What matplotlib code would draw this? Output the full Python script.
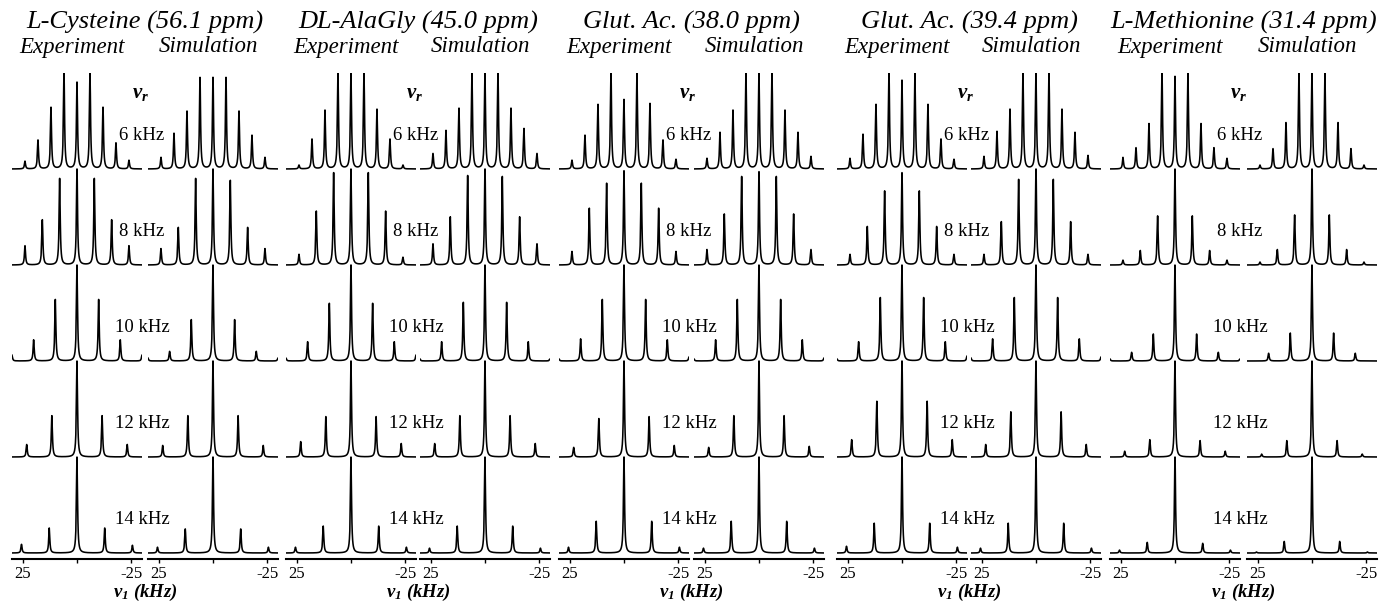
import numpy as np
import matplotlib

matplotlib.use("Agg")
import matplotlib.pyplot as plt
from matplotlib.transforms import blended_transform_factory

plt.rcParams["font.family"] = ["Liberation Serif", "DejaVu Serif"]
plt.rcParams["mathtext.fontset"] = "custom"
plt.rcParams["mathtext.it"] = "Liberation Serif:italic:bold"
plt.rcParams["mathtext.rm"] = "Liberation Serif:italic:bold"

W, H = 1379, 601

compounds = ["L-Cysteine (56.1 ppm)", "DL-AlaGly (45.0 ppm)", "Glut. Ac. (38.0 ppm)",
             "Glut. Ac. (39.4 ppm)", "L-Methionine (31.4 ppm)"]
rate_labels = ["6 kHz", "8 kHz", "10 kHz", "12 kHz", "14 kHz"]
# sideband step along v1 (kHz), top row first
sideband_step = [6.0, 8.0, 10.0, 11.6, 12.8]

# sideband heights, left (+v1) to right (-v1), in units of the row spacing;
# 1.0 means the peak runs into the baseline of the row above
cys_exp = [[0.08, 0.30, 0.64, 1.0, 0.90, 1.0, 0.64, 0.27, 0.09],
           [0.20, 0.47, 0.90, 1.0, 0.90, 0.47, 0.20],
           [0.06, 0.22, 0.64, 1.0, 0.64, 0.22, 0.06],
           [0.13, 0.43, 1.0, 0.43, 0.13],
           [0.09, 0.26, 1.0, 0.26, 0.08]]
cys_sim = [[0.12, 0.37, 0.60, 0.95, 0.95, 0.95, 0.60, 0.35, 0.12],
           [0.17, 0.39, 0.90, 1.0, 0.88, 0.39, 0.17],
           [0.03, 0.10, 0.43, 1.0, 0.43, 0.10, 0.03],
           [0.12, 0.43, 1.0, 0.43, 0.12],
           [0.06, 0.25, 1.0, 0.25, 0.06]]
alagly_exp = [[0.04, 0.31, 0.61, 1.0, 1.0, 1.0, 0.62, 0.31, 0.04],
              [0.11, 0.56, 0.96, 1.0, 0.96, 0.56, 0.08],
              [0.03, 0.20, 0.60, 1.0, 0.60, 0.20, 0.06],
              [0.16, 0.42, 1.0, 0.42, 0.14],
              [0.06, 0.28, 1.0, 0.28, 0.06]]
alagly_sim = [[0.16, 0.40, 0.63, 1.0, 1.0, 1.0, 0.63, 0.42, 0.16],
              [0.22, 0.50, 0.93, 1.0, 0.92, 0.50, 0.22],
              [0.02, 0.20, 0.61, 1.0, 0.61, 0.20, 0.02],
              [0.14, 0.43, 1.0, 0.43, 0.14],
              [0.05, 0.28, 1.0, 0.28, 0.05]]
glu38_exp = [[0.09, 0.35, 0.67, 1.0, 0.72, 1.0, 0.68, 0.30, 0.10],
             [0.14, 0.59, 0.85, 0.98, 0.85, 0.59, 0.14],
             [0.02, 0.23, 0.64, 1.0, 0.64, 0.22, 0.04],
             [0.10, 0.40, 1.0, 0.42, 0.12],
             [0.06, 0.33, 1.0, 0.33, 0.06]]
glu38_sim = [[0.11, 0.38, 0.61, 1.0, 1.0, 1.0, 0.61, 0.38, 0.13],
             [0.16, 0.53, 0.92, 0.97, 0.92, 0.53, 0.16],
             [0.02, 0.22, 0.64, 1.0, 0.64, 0.22, 0.03],
             [0.10, 0.43, 1.0, 0.43, 0.11],
             [0.05, 0.33, 1.0, 0.33, 0.05]]
glu39_exp = [[0.11, 0.36, 0.67, 1.0, 0.92, 1.0, 0.67, 0.31, 0.10],
             [0.11, 0.40, 0.77, 0.96, 0.77, 0.40, 0.11],
             [0.02, 0.20, 0.66, 1.0, 0.66, 0.20, 0.05],
             [0.18, 0.58, 1.0, 0.58, 0.18],
             [0.07, 0.31, 1.0, 0.31, 0.06]]
glu39_sim = [[0.13, 0.39, 0.62, 1.0, 1.0, 1.0, 0.62, 0.38, 0.14],
             [0.11, 0.45, 0.89, 1.0, 0.89, 0.45, 0.11],
             [0.03, 0.23, 0.66, 1.0, 0.66, 0.23, 0.04],
             [0.13, 0.47, 1.0, 0.47, 0.13],
             [0.05, 0.31, 1.0, 0.31, 0.05]]
met_exp = [[0.12, 0.22, 0.47, 1.0, 0.96, 1.0, 0.47, 0.22, 0.11],
           [0.05, 0.15, 0.51, 1.0, 0.51, 0.15, 0.05],
           [0.02, 0.09, 0.28, 1.0, 0.28, 0.09, 0.02],
           [0.06, 0.18, 1.0, 0.17, 0.06],
           [0.03, 0.11, 1.0, 0.10, 0.03]]
met_sim = [[0.04, 0.21, 0.48, 1.0, 1.0, 1.0, 0.48, 0.21, 0.04],
           [0.03, 0.16, 0.52, 1.0, 0.52, 0.16, 0.03],
           [0.00, 0.08, 0.29, 1.0, 0.29, 0.08, 0.00],
           [0.03, 0.17, 1.0, 0.17, 0.03],
           [0.01, 0.12, 1.0, 0.12, 0.01]]

panels = [(cys_exp, cys_sim), (alagly_exp, alagly_sim), (glu38_exp, glu38_sim),
          (glu39_exp, glu39_sim), (met_exp, met_sim)]

# layout in pixels
lefts = [12, 148, 286, 420, 559, 694, 837, 971, 1110, 1247]
panel_w = 130
axis_y, top_y = 559, 73
row_px = 96
hwhm = 0.3
x = np.linspace(-30, 30, 4000)


def spectrum(heights, step):
    k = (len(heights) - 1) // 2
    positions = step * np.arange(k, -k - 1, -1)
    y = np.zeros_like(x)
    for h, p in zip(heights, positions):
        y += h * hwhm ** 2 / ((x - p) ** 2 + hwhm ** 2)
    return np.minimum(y, 1.0)


fig = plt.figure(figsize=(W / 100, H / 100), dpi=100)
n_rows = len(rate_labels)

for ci, (title, (exp_rows, sim_rows)) in enumerate(zip(compounds, panels)):
    axes = []
    for j, rows in enumerate((exp_rows, sim_rows)):
        left = lefts[2 * ci + j]
        ax = fig.add_axes([left / W, 1 - axis_y / H, panel_w / W, (axis_y - top_y) / H])
        ax.set_xlim(30, -30)
        ax.set_ylim(-6 / row_px, n_rows)
        for r, (step, heights) in enumerate(zip(sideband_step, rows)):
            offset = n_rows - 1 - r
            ax.plot(x, offset + spectrum(heights, step), color="black", lw=1.15)
        ax.set_xticks([25, 0, -25])
        ax.set_xticklabels(["25", "", "-25"])
        ax.tick_params(axis="x", direction="out", length=3, width=1.0, pad=2, labelsize=12)
        ax.set_yticks([])
        for s in ("left", "right", "top"):
            ax.spines[s].set_visible(False)
        ax.spines["bottom"].set_linewidth(1.5)
        ax.patch.set_visible(False)
        axes.append(ax)

        cx = (left + panel_w / 2 - 5) / W
        fig.text(cx, 1 - 47 / H, "Experiment" if j == 0 else "Simulation",
                 fontsize=16.5, style="italic", ha="center", va="center")

    exp_ax = axes[0]
    trans = blended_transform_factory(exp_ax.transAxes, exp_ax.transData)
    for r, label in enumerate(rate_labels):
        offset = n_rows - 1 - r
        exp_ax.text(1.0, offset + 0.35, label, transform=trans, fontsize=13.5,
                    ha="center", va="center", zorder=5)
    exp_ax.text(0.99, n_rows - 1 + 0.79, r"$\nu_r$", transform=trans, fontsize=15,
                ha="center", va="center")

    gap = (lefts[2 * ci] + panel_w + lefts[2 * ci + 1]) / 2
    fig.text(gap / W, 1 - 22 / H, title, fontsize=19, style="italic",
             ha="center", va="center")
    fig.text(gap / W, 1 - 592 / H, r"$\nu_1$ (kHz)", fontsize=13.5, style="italic",
             weight="bold", ha="center", va="center")

fig.savefig("out.png", dpi=100)
